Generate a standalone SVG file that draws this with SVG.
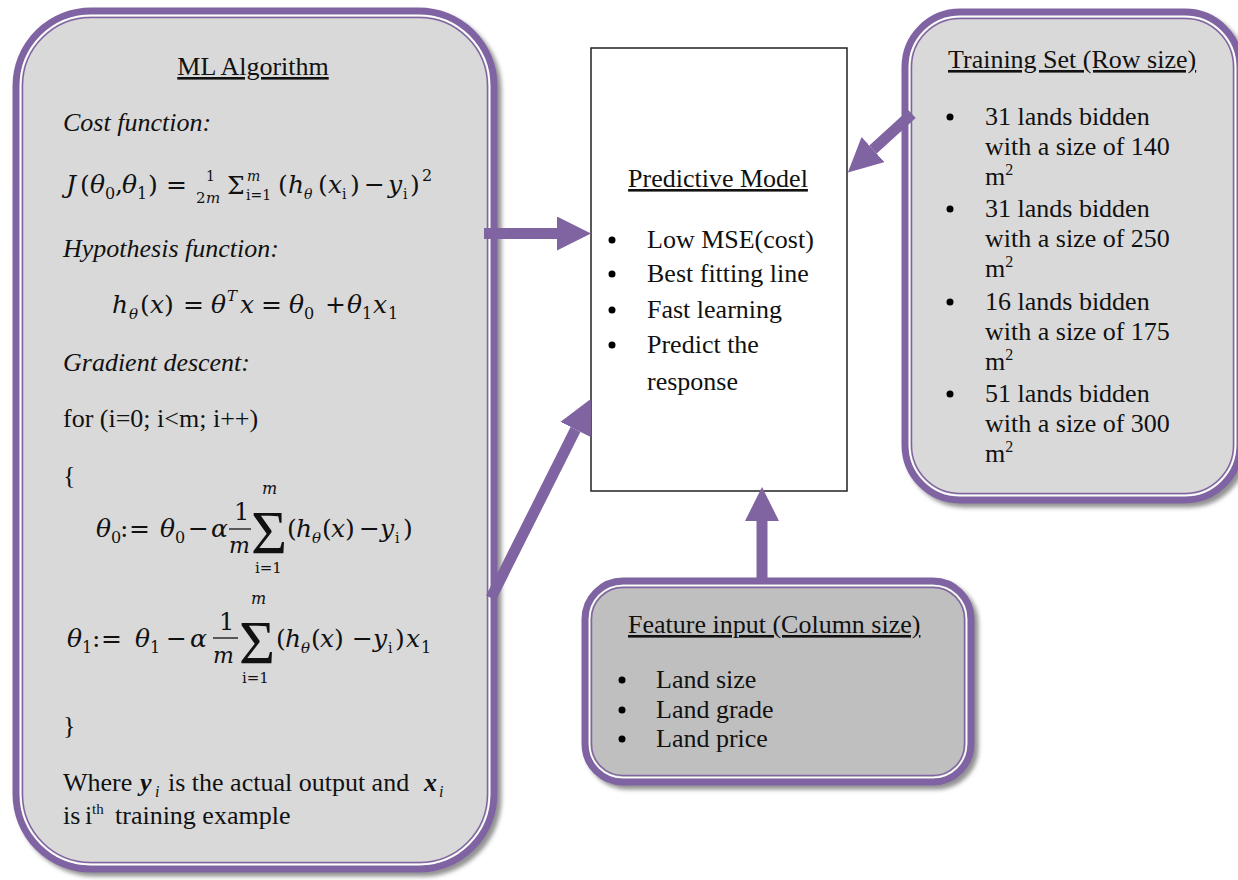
<svg xmlns="http://www.w3.org/2000/svg" width="1238" height="880" viewBox="0 0 1238 880">
<defs>
<filter id="sh" x="-5%" y="-5%" width="115%" height="115%">
<feDropShadow dx="4" dy="4" stdDeviation="2" flood-color="#7f7f7f" flood-opacity="0.85"/>
</filter>
<marker id="ah" markerUnits="userSpaceOnUse" markerWidth="36" markerHeight="36" refX="0" refY="17" orient="auto">
<path d="M0,0 L34,17 L0,34 Z" fill="#8064a2"/>
</marker>
</defs>
<style>
text{font-family:"Liberation Serif","Times New Roman",serif;fill:#111;}
.t{font-size:26px;}
.it{font-style:italic;}
.ul{text-decoration:underline;}
.m{font-family:"DejaVu Serif",serif;font-size:25px;font-style:italic;}
.u{font-style:normal;}
.s{font-size:14px;}
.s15{font-size:15px;}
.s16{font-size:16px;}
.f22{font-size:22px;}
.f24{font-size:24px;}
.big{font-family:"Liberation Serif",serif;font-size:62px;font-style:normal;}
.outer{stroke:#8064a2;stroke-width:7;}
.wline{fill:none;stroke:#ffffff;stroke-width:1.5;}
.pline{fill:none;stroke:#8064a2;stroke-width:1.5;}
.conn{stroke:#8064a2;stroke-width:11;fill:none;marker-end:url(#ah);}
.dot{fill:#000;}
.frac{stroke:#111;stroke-width:1.3;}
</style>
<rect width="1238" height="880" fill="#ffffff"/>

<g id="ml-algorithm">
<rect class="outer" x="16" y="11" width="478" height="858" rx="75" fill="#d9d9d9" filter="url(#sh)"/>
<rect class="wline" x="20.5" y="15.5" width="469" height="849" rx="70.5"/>
<rect class="pline" x="22.5" y="17.5" width="465" height="845" rx="68.5"/>
<text class="t ul" x="253" y="75" text-anchor="middle">ML Algorithm</text>
<text class="t it" x="63" y="131">Cost function:</text>
<text class="m" y="193"><tspan x="66">J</tspan><tspan class="u" x="80">(</tspan><tspan x="90">θ</tspan><tspan class="u s16" x="105" y="199">0</tspan><tspan class="u" x="115" y="193">,</tspan><tspan x="122">θ</tspan><tspan class="u s16" x="137" y="199">1</tspan><tspan class="u" x="148" y="193">)</tspan><tspan class="u" x="166">=</tspan><tspan class="u s" x="206" y="181">1</tspan><tspan class="u s15" x="196" y="203">2</tspan><tspan class="s15" x="206" y="203">m</tspan><tspan class="u" x="227" y="194">Σ</tspan><tspan class="s" x="247" y="181">m</tspan><tspan class="u s" x="246" y="200">i=1</tspan><tspan class="u" x="278" y="193">(</tspan><tspan x="288">h</tspan><tspan class="s" x="304" y="199">θ</tspan><tspan class="u" x="318" y="193">(</tspan><tspan x="328">x</tspan><tspan class="u s" x="342" y="199">i</tspan><tspan class="u" x="350" y="193">)</tspan><tspan class="u" x="364">−</tspan><tspan x="388">y</tspan><tspan class="u s" x="403" y="199">i</tspan><tspan class="u" x="410" y="193">)</tspan><tspan class="u s16" x="422" y="181">2</tspan></text>
<text class="t it" x="63" y="257">Hypothesis function:</text>
<text class="m" y="313"><tspan x="112">h</tspan><tspan class="s15" x="129" y="319">θ</tspan><tspan class="u" x="140" y="313">(</tspan><tspan x="150">x</tspan><tspan class="u" x="164">)</tspan><tspan class="u" x="183">=</tspan><tspan x="211">θ</tspan><tspan class="s15" x="227" y="301">T</tspan><tspan x="240" y="313">x</tspan><tspan class="u" x="261">=</tspan><tspan x="289">θ</tspan><tspan class="u s16" x="304" y="319">0</tspan><tspan class="u" x="325" y="313">+</tspan><tspan x="347">θ</tspan><tspan class="u s16" x="362" y="319">1</tspan><tspan x="373" y="313">x</tspan><tspan class="u s16" x="388" y="319">1</tspan></text>
<text class="t it" x="63" y="371">Gradient descent:</text>
<text class="t" x="63" y="427">for (i=0; i&lt;m; i++)</text>
<text class="t" x="63" y="484">{</text>
<text class="m" y="537"><tspan x="96">θ</tspan><tspan class="u s16" x="111" y="543">0</tspan><tspan class="u" x="120" y="537">:</tspan><tspan class="u" x="129">=</tspan><tspan x="160">θ</tspan><tspan class="u s16" x="175" y="543">0</tspan><tspan class="u" x="188" y="537">−</tspan><tspan x="211">α</tspan><tspan class="u f24" x="234" y="520">1</tspan><tspan class="f22" x="229" y="553">m</tspan></text>
<text class="big" x="251" y="553">Σ</text>
<text class="m s16" x="262" y="494">m</text>
<text class="m u s15" x="255" y="573">i=1</text>
<text class="m" y="537"><tspan class="u" x="287">(</tspan><tspan x="296">h</tspan><tspan class="s15" x="312" y="543">θ</tspan><tspan class="u" x="322" y="537">(</tspan><tspan x="331">x</tspan><tspan class="u" x="345">)</tspan><tspan class="u" x="359">−</tspan><tspan x="380">y</tspan><tspan class="u s" x="395" y="543">i</tspan><tspan class="u" x="403" y="537">)</tspan></text>
<line class="frac" x1="229" y1="529" x2="251" y2="529"/>
<text class="m" y="647"><tspan x="67">θ</tspan><tspan class="u s16" x="82" y="653">1</tspan><tspan class="u" x="92" y="647">:</tspan><tspan class="u" x="101">=</tspan><tspan x="135">θ</tspan><tspan class="u s16" x="150" y="653">1</tspan><tspan class="u" x="166" y="647">−</tspan><tspan x="190">α</tspan><tspan class="u f24" x="219" y="630">1</tspan><tspan class="f22" x="213" y="663">m</tspan></text>
<text class="big" x="239" y="663">Σ</text>
<text class="m s16" x="251" y="604">m</text>
<text class="m u s15" x="242" y="683">i=1</text>
<text class="m" y="647"><tspan class="u" x="276">(</tspan><tspan x="285">h</tspan><tspan class="s15" x="301" y="653">θ</tspan><tspan class="u" x="311" y="647">(</tspan><tspan x="320">x</tspan><tspan class="u" x="334">)</tspan><tspan class="u" x="352">−</tspan><tspan x="373">y</tspan><tspan class="u s" x="388" y="653">i</tspan><tspan class="u" x="395" y="647">)</tspan><tspan x="406">x</tspan><tspan class="u s16" x="421" y="653">1</tspan></text>
<line class="frac" x1="213" y1="638" x2="238" y2="638"/>
<text class="t" x="63" y="734">}</text>
<text class="t" y="791"><tspan x="63">Where</tspan><tspan x="140" font-weight="bold" font-style="italic">y</tspan><tspan x="155" y="797" font-size="16" font-style="italic">i</tspan><tspan x="168" y="791">is the actual output and</tspan><tspan x="424" font-weight="bold" font-style="italic">x</tspan><tspan x="439" y="797" font-size="16" font-style="italic">i</tspan></text>
<text class="t" y="824"><tspan x="63">is</tspan><tspan x="85">i</tspan><tspan x="92" y="814" font-size="15">th</tspan><tspan x="115" y="824">training example</tspan></text>
</g>

<g id="predictive-model">
<rect x="591" y="48" width="256" height="443" fill="#ffffff" stroke="#222" stroke-width="1.5"/>
<text class="t ul" x="718" y="187" text-anchor="middle">Predictive Model</text>
<circle class="dot" cx="612" cy="240" r="3.5"/>
<circle class="dot" cx="612" cy="274" r="3.5"/>
<circle class="dot" cx="612" cy="310" r="3.5"/>
<circle class="dot" cx="612" cy="345" r="3.5"/>
<text class="t" x="647" y="248">Low MSE(cost)</text>
<text class="t" x="647" y="282">Best fitting line</text>
<text class="t" x="647" y="318">Fast learning</text>
<text class="t" x="647" y="353">Predict the</text>
<text class="t" x="647" y="390">response</text>
</g>

<g id="training-set">
<rect class="outer" x="905" y="12" width="335" height="488" rx="55" fill="#d9d9d9" filter="url(#sh)"/>
<rect class="wline" x="909.5" y="16.5" width="326" height="479" rx="50.5"/>
<rect class="pline" x="911.5" y="18.5" width="322" height="475" rx="48.5"/>
<text class="t ul" x="948" y="68">Training Set (Row size)</text>
<circle class="dot" cx="950" cy="117" r="3.5"/>
<circle class="dot" cx="950" cy="209" r="3.5"/>
<circle class="dot" cx="950" cy="302" r="3.5"/>
<circle class="dot" cx="950" cy="394" r="3.5"/>
<text class="t" x="985" y="125">31 lands bidden</text>
<text class="t" x="985" y="155">with a size of 140</text>
<text class="t" x="985" y="185">m<tspan font-size="16" dy="-10">2</tspan></text>
<text class="t" x="985" y="217">31 lands bidden</text>
<text class="t" x="985" y="247">with a size of 250</text>
<text class="t" x="985" y="277">m<tspan font-size="16" dy="-10">2</tspan></text>
<text class="t" x="985" y="310">16 lands bidden</text>
<text class="t" x="985" y="340">with a size of 175</text>
<text class="t" x="985" y="370">m<tspan font-size="16" dy="-10">2</tspan></text>
<text class="t" x="985" y="402">51 lands bidden</text>
<text class="t" x="985" y="432">with a size of 300</text>
<text class="t" x="985" y="462">m<tspan font-size="16" dy="-10">2</tspan></text>
</g>

<g id="feature-input">
<rect class="outer" x="585" y="581" width="386" height="201" rx="38" fill="#bfbfbf" filter="url(#sh)"/>
<rect class="wline" x="589.5" y="585.5" width="377" height="192" rx="33.5"/>
<rect class="pline" x="591.5" y="587.5" width="373" height="188" rx="31.5"/>
<text class="t ul" x="628" y="633">Feature input (Column size)</text>
<circle class="dot" cx="622" cy="680" r="3.5"/>
<circle class="dot" cx="622" cy="710" r="3.5"/>
<circle class="dot" cx="622" cy="739" r="3.5"/>
<text class="t" x="656" y="688">Land size</text>
<text class="t" x="656" y="718">Land grade</text>
<text class="t" x="656" y="747">Land price</text>
</g>

<g id="connectors">
<line class="conn" x1="484" y1="233.5" x2="557" y2="233.5"/>
<line class="conn" x1="491" y1="598" x2="575.5" y2="429.5"/>
<line class="conn" x1="762" y1="580" x2="762" y2="521"/>
<line class="conn" x1="912" y1="114" x2="873" y2="149.5"/>
</g>
</svg>
